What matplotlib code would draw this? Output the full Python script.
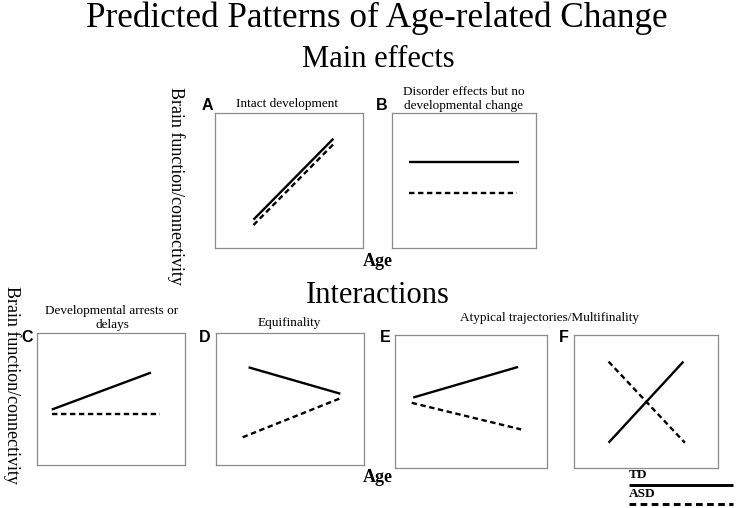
import matplotlib

matplotlib.use("Agg")
import matplotlib.pyplot as plt

W, H = 736, 508

# ---------------------------------------------------------------------------
# Data (schematic trajectories, 0-100 units inside each panel)
# ---------------------------------------------------------------------------
PANELS = ["A", "B", "C", "D", "E", "F"]
TITLES = [
    "Intact development",
    "Disorder effects but no\ndevelopmental change",
    "Developmental arrests or\ndelays",
    "Equifinality",
]
TD_X = [[26, 80], [12, 88], [10, 77], [22, 84], [12, 81], [24, 76]]
TD_Y = [[21, 81], [64, 64], [42, 70], [74, 54], [53, 76], [19, 80]]
ASD_X = [[26, 81], [12, 87], [10, 83], [18, 85], [11, 83], [24, 77]]
ASD_Y = [[17, 78], [41, 41], [39, 39], [21, 51], [49, 29], [80, 19]]
GROUPS = ["TD", "ASD"]

# panel boxes in pixels: left, top, right, bottom
BOXES = [
    (215, 113, 363, 248),
    (392, 113, 536, 248),
    (37, 333, 185, 465),
    (216, 333, 364, 465),
    (395, 335, 547, 468),
    (574, 335, 718, 468),
]

SERIF = "Liberation Serif"
SANS = "Liberation Sans"
LW = 1.7
DASH = (2.3, 1.5)
EDGE = "#8a8a8a"


def fx(x):
    return x / W


def fy(y):
    return 1 - y / H


def add_panel(fig, box):
    l, t, r, b = box
    ax = fig.add_axes([fx(l), fy(b), (r - l) / W, (b - t) / H])
    ax.set_xlim(0, 100)
    ax.set_ylim(0, 100)
    ax.set_xticks([])
    ax.set_yticks([])
    for s in ax.spines.values():
        s.set_color(EDGE)
        s.set_linewidth(0.9)
    return ax


def main():
    fig = plt.figure(figsize=(W / 100, H / 100), dpi=100)

    fig.text(fx(377), fy(27), "Predicted Patterns of Age-related Change",
             family=SERIF, fontsize=25.3, ha="center", va="baseline")
    fig.text(fx(378), fy(67), "Main effects", family=SERIF, fontsize=22,
             ha="center", va="baseline")
    fig.text(fx(378), fy(303), "Interactions", family=SERIF, fontsize=22,
             ha="center", va="baseline")

    for i, box in enumerate(BOXES):
        ax = add_panel(fig, box)
        ax.plot(TD_X[i], TD_Y[i], color="black", lw=LW, solid_capstyle="butt")
        ax.plot(ASD_X[i], ASD_Y[i], color="black", lw=LW, linestyle=(0, DASH))

    # panel letters
    letters_xy = [(207, 105), (382, 105), (27, 338), (205, 338), (385, 338), (564, 338)]
    for letter, (x, y) in zip(PANELS, letters_xy):
        fig.text(fx(x), fy(y), letter, family=SANS, weight="bold", fontsize=11.5,
                 ha="center", va="center")

    # panel titles
    title_xy = [(287, 104), (464, 99), (112, 318), (289, 323)]
    for (x, y), txt in zip(title_xy, TITLES):
        fig.text(fx(x), fy(y), txt, family=SERIF, fontsize=9.5, ha="center",
                 va="center", linespacing=1.2)
    fig.text(fx(549), fy(318), "Atypical trajectories/Multifinality",
             family=SERIF, fontsize=9.5, ha="center", va="center")

    # axis labels
    for y in (262, 477):
        fig.text(fx(378), fy(y), "Age", family=SERIF, weight="bold",
                 fontsize=13, ha="center", va="center")
    fig.text(fx(176), fy(186), "Brain function/connectivity", family=SERIF,
             fontsize=13, rotation=-90, ha="center", va="center")
    fig.text(fx(12), fy(385), "Brain function/connectivity", family=SERIF,
             fontsize=13, rotation=-90, ha="center", va="center")

    # legend key: label above line
    lg = fig.add_axes([fx(629), fy(508), (733 - 629) / W, (508 - 466) / H])
    lg.set_xlim(0, 1)
    lg.set_ylim(508, 466)
    lg.axis("off")
    for name, ty, ly, style in zip(GROUPS, (475, 494), (485, 504),
                                   ("-", (0, DASH))):
        lg.text(0, ty, name, family=SERIF, weight="bold", fontsize=9.5,
                ha="left", va="center")
        lg.plot([0, 1], [ly, ly], color="black", lw=LW + 0.4, linestyle=style,
                solid_capstyle="butt", clip_on=False)

    fig.savefig("out.png", dpi=100)


if __name__ == "__main__":
    main()
